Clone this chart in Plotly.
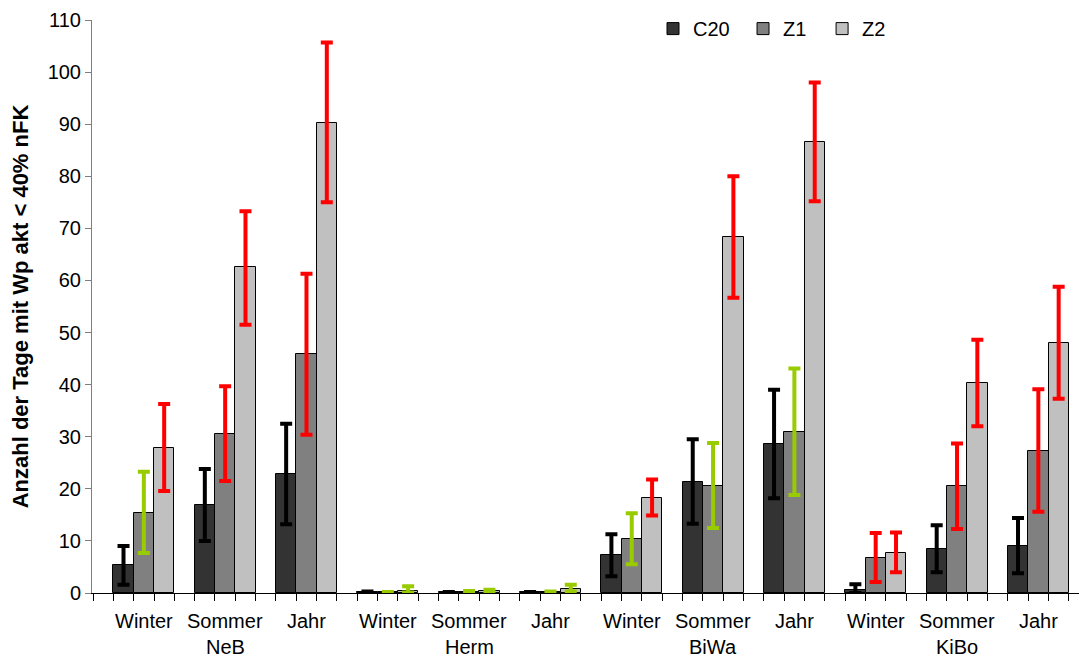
import numpy as np
import plotly.graph_objects as go

# ---- data (order: NeB W/S/J, Herm W/S/J, BiWa W/S/J, KiBo W/S/J) ----
seasons = ["Winter", "Sommer", "Jahr"] * 4
sites = ["NeB", "Herm", "BiWa", "KiBo"]
series_names = ["C20", "Z1", "Z2"]

c20 = [5.3, 16.8, 22.9, 0.1, 0.1, 0.1, 7.2, 21.4, 28.6, 0.6, 8.4, 9.1]
c20_hi = [9.0, 23.8, 32.5, 0.3, 0.2, 0.2, 11.3, 29.5, 39.0, 1.7, 13.0, 14.4]
c20_lo = [1.6, 10.0, 13.2, 0.0, 0.0, 0.0, 3.2, 13.3, 18.2, 0.0, 4.0, 3.8]

z1 = [15.4, 30.5, 45.8, 0.1, 0.2, 0.2, 10.3, 20.6, 30.9, 6.8, 20.5, 27.3]
z1_hi = [23.3, 39.7, 61.3, 0.2, 0.4, 0.3, 15.3, 28.8, 43.1, 11.5, 28.7, 39.1]
z1_lo = [7.7, 21.5, 30.4, 0.0, 0.1, 0.1, 5.5, 12.5, 18.8, 2.1, 12.3, 15.6]

z2 = [27.9, 62.5, 90.3, 0.4, 0.3, 0.7, 18.3, 68.3, 86.5, 7.7, 40.3, 48.0]
z2_hi = [36.3, 73.3, 105.7, 1.3, 0.6, 1.6, 21.8, 80.0, 98.0, 11.6, 48.6, 58.8]
z2_lo = [19.6, 51.5, 75.0, 0.1, 0.1, 0.3, 14.9, 56.7, 75.2, 4.0, 32.0, 37.3]

# error bar colour class per bar: k = black, g = green, r = red
c20_err = ["k"] * 12
z1_err = ["g", "r", "r", "g", "g", "g", "g", "g", "g", "r", "r", "r"]
z2_err = ["r", "r", "r", "g", "g", "g", "r", "r", "r", "r", "r", "r"]

# ---- styling ----
FONT = "Liberation Sans, Arial, sans-serif"
bar_colors = ["#333333", "#808080", "#c0c0c0"]
err_colors = {"k": "#000000", "g": "#99cc00", "r": "#ff0000"}
legend_ids = ["legend", "legend2", "legend3"]
legend_x = [0.5684, 0.6596, 0.7397]

values = [c20, z1, z2]
his = [c20_hi, z1_hi, z2_hi]
los = [c20_lo, z1_lo, z2_lo]
errs = [c20_err, z1_err, z2_err]

n = len(seasons)
fig = go.Figure()

for s in range(3):
    xs = [4 * g + s + 0.5 for g in range(n)]
    fig.add_trace(go.Bar(
        x=xs, y=values[s], name=series_names[s], width=1.0,
        marker=dict(color=bar_colors[s], line=dict(color="#000000", width=1)),
        hoverinfo="skip", legend=legend_ids[s], showlegend=True,
    ))

# error bars grouped by colour
for key in ["k", "g", "r"]:
    ex, ey, ep, em = [], [], [], []
    for s in range(3):
        v = np.array(values[s]); hi = np.array(his[s]); lo = np.array(los[s])
        for g in range(n):
            if errs[s][g] == key:
                ex.append(4 * g + s + 0.5)
                ey.append(v[g])
                ep.append(hi[g] - v[g])
                em.append(max(v[g] - lo[g], 0))
    fig.add_trace(go.Scatter(
        x=ex, y=ey, mode="markers", marker=dict(size=1, opacity=0),
        showlegend=False, hoverinfo="skip",
        error_y=dict(type="data", symmetric=False, array=ep, arrayminus=em,
                     color=err_colors[key], thickness=4, width=6),
    ))

annotations = []
for g in range(n):
    annotations.append(dict(
        x=4 * g + 1.5, y=0, xref="x", yref="paper", text=seasons[g],
        showarrow=False, yanchor="middle", yshift=-28,
        font=dict(family=FONT, size=20, color="#000000"),
    ))
for k, site in enumerate(sites):
    annotations.append(dict(
        x=4 * (3 * k + 1) + 1.5, y=0, xref="x", yref="paper", text=site,
        showarrow=False, yanchor="middle", yshift=-54,
        font=dict(family=FONT, size=20, color="#000000"),
    ))

legend_common = dict(orientation="h", xanchor="left", y=0.985, yanchor="middle",
                     font=dict(family=FONT, size=20, color="#000000"),
                     bgcolor="rgba(0,0,0,0)", itemwidth=30)

fig.update_layout(
    width=1083, height=661,
    margin=dict(l=92, r=4, t=20, b=68),
    plot_bgcolor="#ffffff", paper_bgcolor="#ffffff",
    barmode="overlay", bargap=0,
    font=dict(family=FONT, size=20, color="#000000"),
    legend=dict(x=legend_x[0], **legend_common),
    legend2=dict(x=legend_x[1], **legend_common),
    legend3=dict(x=legend_x[2], **legend_common),
    xaxis=dict(range=[-1.05, 47.5], showgrid=False, zeroline=False,
               showline=True, linecolor="#000000", linewidth=1,
               tickmode="linear", tick0=0, dtick=1, ticks="outside", ticklen=7,
               tickcolor="#000000", showticklabels=False),
    yaxis=dict(range=[0, 110], showgrid=False, zeroline=False,
               showline=True, linecolor="#7f7f7f", linewidth=1,
               tickmode="linear", tick0=0, dtick=10, ticks="outside", ticklen=6,
               tickcolor="#7f7f7f",
               tickfont=dict(family=FONT, size=20, color="#000000"),
               title=dict(text="Anzahl der Tage mit Wp akt &lt; 40% nFK", standoff=12,
                          font=dict(family=FONT, size=22, color="#000000", weight="bold"))),
    annotations=annotations,
)

fig.write_html("out.html")
